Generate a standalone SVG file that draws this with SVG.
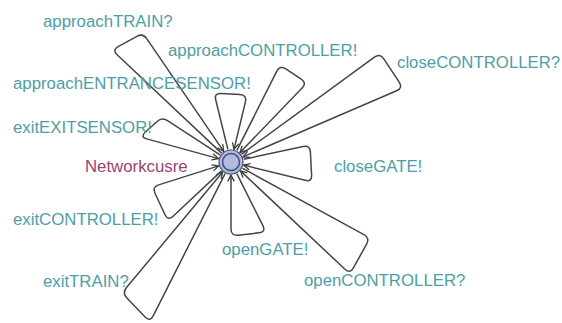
<svg xmlns="http://www.w3.org/2000/svg" width="562" height="323" viewBox="0 0 562 323">
<defs>
<marker id="arr" viewBox="0 0 10 10" refX="9" refY="5" markerWidth="8" markerHeight="8" markerUnits="userSpaceOnUse" orient="auto">
<path d="M1,1 L9,5 L1,9" fill="none" stroke="#3a3a3a" stroke-width="1.6"/>
</marker>
</defs>
<style>
.loop{fill:none;stroke:#454545;stroke-width:1.5;marker-end:url(#arr)}
.lbl{font-family:"Liberation Sans",Arial,sans-serif;font-size:16.8px;fill:#4d9ea7}
.name{font-family:"Liberation Sans",Arial,sans-serif;font-size:16.8px;fill:#9a4474}
</style>
<rect x="0" y="0" width="562" height="323" fill="#ffffff"/>
<g id="connectors">
<path class="loop" d="M221.5,153.1 L117.1,54.8 Q112,50 118.1,46.6 L136.9,36.4 Q143,33 146.9,38.8 L223.7,151.3"/>
<path class="loop" d="M227.9,149.4 L215.7,99.8 Q214,93 221,93.4 L240,94.6 Q247,95 245.4,101.8 L234,149.4"/>
<path class="loop" d="M236.9,150.4 L276.8,71.2 Q280,65 285.8,68.9 L301.2,79.1 Q307,83 302.1,88 L240,152.6"/>
<path class="loop" d="M241.5,154.3 L374.4,57.1 Q380,53 383.8,58.9 L399.2,82.1 Q403,88 396.6,90.8 L243,156.9"/>
<path class="loop" d="M220.1,154.9 L167.9,120.8 Q162,117 156.8,121.7 L145.2,132.3 Q140,137 146.7,138.9 L218.5,158.6"/>
<path class="loop" d="M243.7,159.3 L303.2,146.5 Q310,145 310.4,152 L311.6,175 Q312,182 305.2,180.3 L243.6,165.1"/>
<path class="loop" d="M242.4,168.2 L363.9,234.6 Q370,238 366.6,244.1 L353.4,267.9 Q350,274 344.9,269.2 L240.5,170.9"/>
<path class="loop" d="M236.8,173.6 L262.9,225.7 Q266,232 259,232.8 L238,235.2 Q231,236 231,229 L231,175"/>
<path class="loop" d="M225.1,173.6 L153.2,315.8 Q150,322 145.1,317 L126.9,298 Q122,293 126.5,287.6 L222.7,172"/>
<path class="loop" d="M221.5,170.9 L173.1,216.2 Q168,221 165,214.7 L155,193.3 Q152,187 158.7,184.9 L218.6,165.9"/>
</g>
<g id="labels">
<text class="lbl" x="43" y="27">approachTRAIN?</text>
<text class="lbl" x="168" y="56">approachCONTROLLER!</text>
<text class="lbl" x="397" y="68">closeCONTROLLER?</text>
<text class="lbl" x="13" y="89">approachENTRANCESENSOR!</text>
<text class="lbl" x="13" y="133">exitEXITSENSOR!</text>
<text class="lbl" x="334" y="172">closeGATE!</text>
<text class="lbl" x="13" y="225">exitCONTROLLER!</text>
<text class="lbl" x="222" y="255">openGATE!</text>
<text class="lbl" x="43" y="287">exitTRAIN?</text>
<text class="lbl" x="304" y="286">openCONTROLLER?</text>
</g>
<g id="Networkcusre">
<circle cx="231" cy="162" r="12" fill="#b3badd" stroke="#4a5578" stroke-width="1.2"/>
<circle cx="231" cy="162" r="8.5" fill="#b3badd" stroke="#3b4a80" stroke-width="1.5"/>
<text class="name" x="85" y="172">Networkcusre</text>
</g>
</svg>
